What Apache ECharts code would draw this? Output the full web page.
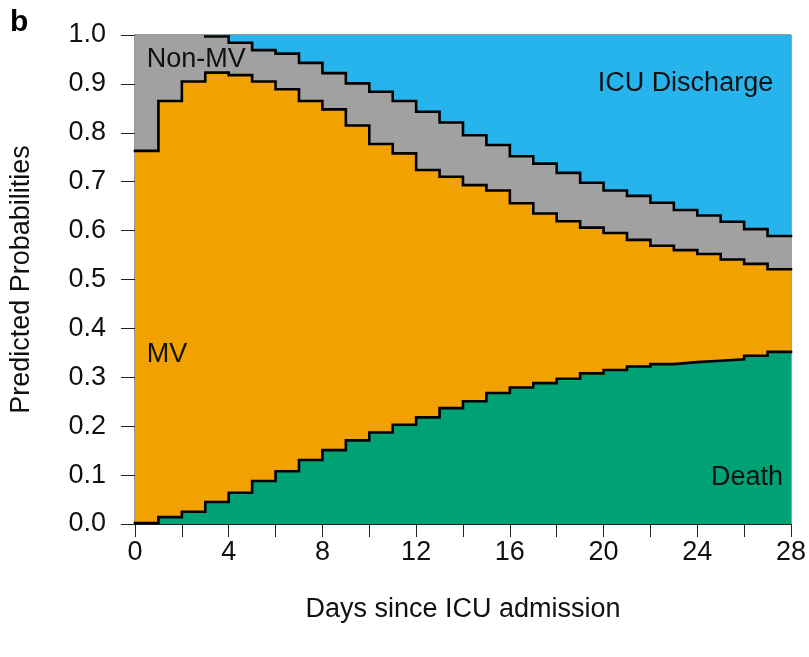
<!DOCTYPE html>
<html>
<head>
<meta charset="utf-8">
<title>Predicted state probabilities</title>
<script src="https://cdn.jsdelivr.net/npm/echarts@6/dist/echarts.min.js"></script>
<style>
  html, body { margin: 0; padding: 0; background: #ffffff; }
  #chart { width: 809px; height: 657px; }
</style>
</head>
<body>
<div id="chart"></div>
<script>
// Days since ICU admission (each value holds from that day to the next)
const days = [0,1,2,3,4,5,6,7,8,9,10,11,12,13,14,15,16,17,18,19,20,21,22,23,24,25,26,27,28];

// Cumulative predicted probabilities: upper edge of each state band
const deathTop = [0.002,0.014,0.025,0.045,0.064,0.088,0.108,0.131,0.151,0.171,0.187,0.203,0.218,0.237,0.251,0.268,0.279,0.288,0.297,0.308,0.315,0.322,0.327,0.331,0.334,0.337,0.344,0.352];
const mvTop    = [0.763,0.865,0.905,0.923,0.918,0.905,0.889,0.865,0.848,0.815,0.777,0.758,0.724,0.710,0.693,0.682,0.656,0.635,0.619,0.606,0.595,0.581,0.569,0.560,0.552,0.541,0.532,0.521];
const nonMvTop = [1.000,1.000,1.000,0.997,0.984,0.969,0.962,0.943,0.922,0.901,0.884,0.865,0.843,0.821,0.795,0.775,0.752,0.737,0.718,0.698,0.682,0.671,0.657,0.642,0.631,0.618,0.603,0.589];
const icuTop   = [1,1,1,1,1,1,1,1,1,1,1,1,1,1,1,1,1,1,1,1,1,1,1,1,1,1,1,1];

const yTicks = [0,0.1,0.2,0.3,0.4,0.5,0.6,0.7,0.8,0.9,1.0];
const xLabelDays = [0,4,8,12,16,20,24,28];

const stateNames = ['ICU Discharge','Non-MV','MV','Death'];
const stateColors = ['#27b4ec','#a1a1a1','#f1a100','#00a174'];

const FONT = '"Liberation Sans", Arial, Helvetica, sans-serif';

// Pair each day with its value; the last interval is closed at day 28
function stepData(vals) {
  return days.map((d, i) => [d, vals[Math.min(i, vals.length - 1)]]);
}

// Border points; stretches lying on the 1.0 frame are left to the frame itself
function edgeData(vals) {
  return stepData(vals).map(p => (p[1] >= 1 ? [p[0], null] : p));
}

const tops = [icuTop, nonMvTop, mvTop, deathTop];

// Filled bands: drawn from the top state down so each later band covers the one above it
const areaSeries = tops.map((vals, i) => ({
  name: stateNames[i],
  type: 'line',
  step: 'end',
  data: stepData(vals),
  showSymbol: false,
  silent: true,
  z: 2,
  lineStyle: { width: 0 },
  areaStyle: { color: stateColors[i], opacity: 1, origin: 'start' }
}));

// Black borders between bands
const edgeSeries = [nonMvTop, mvTop, deathTop].map((vals, i) => ({
  name: stateNames[i + 1] + ' edge',
  type: 'line',
  step: 'end',
  data: edgeData(vals),
  connectNulls: false,
  showSymbol: false,
  silent: true,
  z: 4,
  lineStyle: { color: '#000000', width: 2.6, cap: 'square', join: 'miter' }
}));

const chart = echarts.init(document.getElementById('chart'), null, { renderer: 'canvas' });

chart.setOption({
  animation: false,
  backgroundColor: '#ffffff',
  grid: {
    left: 135, right: 18, top: 35, bottom: 133,
    show: true, borderColor: '#333333', borderWidth: 1, backgroundColor: 'transparent'
  },
  xAxis: {
    type: 'value',
    min: 0, max: 28, interval: 2,
    name: 'Days since ICU admission',
    nameLocation: 'middle',
    nameGap: 72,
    nameTextStyle: { fontFamily: FONT, fontSize: 27, color: '#111111' },
    axisLine: { show: true, onZero: false, lineStyle: { color: '#222222', width: 1 } },
    axisTick: { show: true, length: 13, inside: false, lineStyle: { color: '#222222', width: 1 } },
    axisLabel: {
      fontFamily: FONT, fontSize: 27, color: '#111111', margin: 15,
      formatter: v => (xLabelDays.indexOf(v) >= 0 ? String(v) : '')
    },
    splitLine: { show: false }
  },
  yAxis: {
    type: 'value',
    min: yTicks[0], max: yTicks[yTicks.length - 1], interval: 0.1,
    name: 'Predicted Probabilities',
    nameLocation: 'middle',
    nameGap: 100,
    nameTextStyle: { fontFamily: FONT, fontSize: 27, color: '#111111' },
    axisLine: { show: true, lineStyle: { color: '#222222', width: 1 } },
    axisTick: { show: true, length: 14, inside: false, lineStyle: { color: '#222222', width: 1 } },
    axisLabel: {
      fontFamily: FONT, fontSize: 27, color: '#111111', margin: 29,
      formatter: v => v.toFixed(1)
    },
    splitLine: { show: false }
  },
  series: areaSeries.concat(edgeSeries)
});

// State labels placed in data coordinates inside their bands
const stateLabels = [
  { text: 'Non-MV',        at: [0.5, 0.949],   align: 'left' },
  { text: 'ICU Discharge', at: [27.24, 0.901], align: 'right' },
  { text: 'MV',            at: [0.5, 0.346],   align: 'left' },
  { text: 'Death',         at: [27.66, 0.094], align: 'right' }
];

const graphics = stateLabels.map(l => {
  const p = chart.convertToPixel({ gridIndex: 0 }, l.at);
  return {
    type: 'text',
    x: p[0], y: p[1], z: 10,
    style: {
      text: l.text, fontFamily: FONT, fontSize: 27, fill: '#111111',
      align: l.align, verticalAlign: 'middle'
    }
  };
});

// Panel letter
graphics.push({
  type: 'text', x: 10, y: 8, z: 10,
  style: { text: 'b', fontFamily: FONT, fontSize: 30, fontWeight: 'bold', fill: '#000000' }
});

chart.setOption({ graphic: graphics });
</script>
</body>
</html>
